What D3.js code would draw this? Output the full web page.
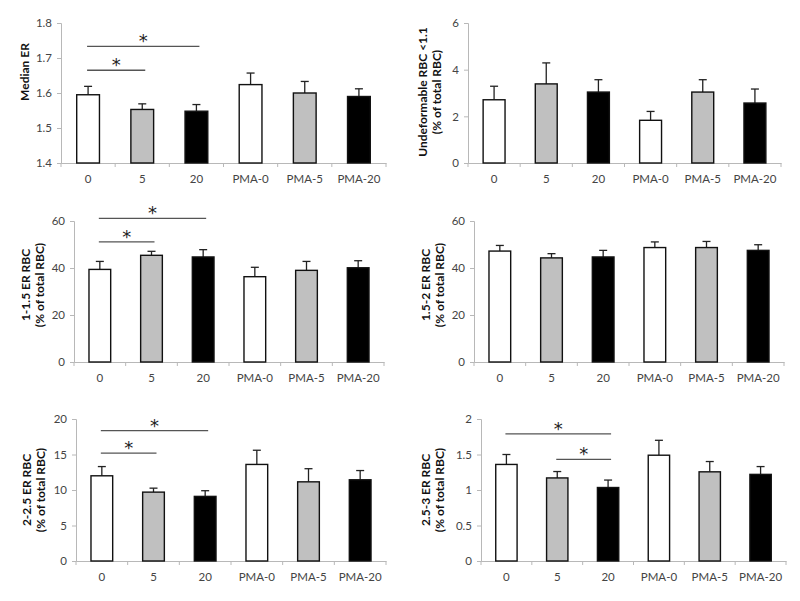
<!DOCTYPE html>
<html>
<head>
<meta charset="utf-8">
<script src="https://cdn.jsdelivr.net/npm/d3@7"></script>
<style>
  html, body { margin: 0; padding: 0; background: #fff; }
  svg text { font-family: Lato, "Open Sans", sans-serif; }
</style>
</head>
<body>
<svg id="chart" width="800" height="601"></svg>
<script>
// categories on every x axis
const categories = ["0", "5", "20", "PMA-0", "PMA-5", "PMA-20"];
const barFills = ["#ffffff", "#c0c0c0", "#000000", "#ffffff", "#c0c0c0", "#000000"];

// values (mean, upper error)
const medianER     = [1.595, 1.553, 1.548, 1.624, 1.600, 1.590];
const medianERErr  = [0.024, 0.016, 0.019, 0.033, 0.033, 0.022];
const undeform     = [2.71, 3.39, 3.04, 1.83, 3.04, 2.57];
const undeformErr  = [0.58, 0.90, 0.53, 0.38, 0.53, 0.60];
const er1to15      = [39.4, 45.4, 44.7, 36.3, 39.0, 40.1];
const er1to15Err   = [3.4, 1.7, 3.1, 4.0, 3.8, 3.0];
const er15to2      = [47.2, 44.3, 44.7, 48.7, 48.7, 47.5];
const er15to2Err   = [2.4, 1.8, 2.8, 2.4, 2.6, 2.4];
const er2to25      = [12.0, 9.7, 9.1, 13.6, 11.15, 11.44];
const er2to25Err   = [1.3, 0.56, 0.8, 2.0, 1.85, 1.3];
const er25to3      = [1.36, 1.17, 1.035, 1.49, 1.256, 1.22];
const er25to3Err   = [0.14, 0.09, 0.105, 0.21, 0.145, 0.11];

// significance brackets: [from index, to index, y value]
const sigMedian  = [[0, 1, 1.665], [0, 2, 1.733]];
const sig1to15   = [[0, 1, 51.1], [0, 2, 61.1]];
const sig2to25   = [[0, 1, 15.2], [0, 2, 18.35]];
const sig25to3   = [[1, 2, 1.43], [0, 2, 1.79]];

// y ticks
const ticksMedian = [1.4, 1.5, 1.6, 1.7, 1.8];
const ticksUndef  = [0, 2, 4, 6];
const ticks60     = [0, 20, 40, 60];
const ticks20     = [0, 5, 10, 15, 20];
const ticks2      = [0, 0.5, 1, 1.5, 2];

const panels = [
  { x0: 61,  x1: 386, y0: 163, y1: 23,  domain: [1.4, 1.8], ticks: ticksMedian, fmt: d3.format(".1f"),
    vals: medianER, errs: medianERErr, sig: sigMedian, label: ["Median ER"], labelX: 25, labelY: 72 },
  { x0: 468, x1: 781, y0: 163, y1: 23,  domain: [0, 6], ticks: ticksUndef, fmt: d3.format("d"),
    vals: undeform, errs: undeformErr, sig: [], label: ["Undeformable RBC <1.1", "(% of total RBC)"], labelX: 429, labelY: 92 },
  { x0: 74,  x1: 384, y0: 362, y1: 221, domain: [0, 60], ticks: ticks60, fmt: d3.format("d"),
    vals: er1to15, errs: er1to15Err, sig: sig1to15, label: ["1-1.5 ER RBC", "(% of total RBC)"], labelX: 32, labelY: 285 },
  { x0: 474, x1: 784, y0: 362, y1: 221, domain: [0, 60], ticks: ticks60, fmt: d3.format("d"),
    vals: er15to2, errs: er15to2Err, sig: [], label: ["1.5-2 ER RBC", "(% of total RBC)"], labelX: 432, labelY: 285 },
  { x0: 76,  x1: 386, y0: 561, y1: 419, domain: [0, 20], ticks: ticks20, fmt: d3.format("d"),
    vals: er2to25, errs: er2to25Err, sig: sig2to25, label: ["2-2.5 ER RBC", "(% of total RBC)"], labelX: 33, labelY: 490 },
  { x0: 481, x1: 786, y0: 561, y1: 419, domain: [0, 2], ticks: ticks2, fmt: d => String(d),
    vals: er25to3, errs: er25to3Err, sig: sig25to3, label: ["2.5-3 ER RBC", "(% of total RBC)"], labelX: 432, labelY: 490 }
];

const svg = d3.select("#chart");
const axisColor = "#b8b8b8";

panels.forEach(p => {
  const g = svg.append("g");
  const x = d3.scaleBand().domain(categories).range([p.x0, p.x1]).padding(0);
  const y = d3.scaleLinear().domain(p.domain).range([p.y0, p.y1]);
  const bw = x.bandwidth() * 0.42;

  // y axis
  const ya = g.append("g").attr("transform", `translate(${p.x0},0)`)
    .call(d3.axisLeft(y).tickValues(p.ticks).tickFormat(p.fmt).tickSize(4).tickPadding(5));
  ya.select(".domain").attr("stroke", axisColor);
  ya.selectAll(".tick line").attr("stroke", axisColor);
  ya.selectAll(".tick text").attr("fill", "#444").style("font-size", "11.5px");

  // x axis: ticks at band boundaries
  const xa = g.append("g").attr("transform", `translate(0,${p.y0})`)
    .call(d3.axisBottom(x).tickSize(0).tickPadding(12));
  xa.select(".domain").attr("stroke", axisColor);
  xa.selectAll(".tick text").attr("fill", "#444").style("font-size", "11.5px");
  g.append("g").selectAll("line")
    .data(d3.range(categories.length + 1))
    .join("line")
    .attr("x1", i => p.x0 + i * x.step()).attr("x2", i => p.x0 + i * x.step())
    .attr("y1", p.y0).attr("y2", p.y0 + 4)
    .attr("stroke", axisColor);

  // error bars (upper only)
  const eb = g.append("g").attr("stroke", "#222").attr("stroke-width", 1.3);
  categories.forEach((c, i) => {
    const cx = x(c) + x.bandwidth() / 2;
    eb.append("line").attr("x1", cx).attr("x2", cx)
      .attr("y1", y(p.vals[i])).attr("y2", y(p.vals[i] + p.errs[i]));
    eb.append("line").attr("x1", cx - 4).attr("x2", cx + 4)
      .attr("y1", y(p.vals[i] + p.errs[i])).attr("y2", y(p.vals[i] + p.errs[i]));
  });

  // bars
  g.append("g").selectAll("rect")
    .data(p.vals)
    .join("rect")
    .attr("x", (d, i) => x(categories[i]) + (x.bandwidth() - bw) / 2)
    .attr("y", d => y(d))
    .attr("width", bw)
    .attr("height", d => p.y0 - y(d))
    .attr("fill", (d, i) => barFills[i])
    .attr("stroke", "#111")
    .attr("stroke-width", 1.4);

  // significance lines
  p.sig.forEach(([a, b, v]) => {
    const xa1 = x(categories[a]) + x.bandwidth() / 2 - 1;
    const xb1 = x(categories[b]) + x.bandwidth() / 2 + 3;
    g.append("line").attr("x1", xa1).attr("x2", xb1)
      .attr("y1", y(v)).attr("y2", y(v))
      .attr("stroke", "#555").attr("stroke-width", 1.3);
    g.append("text").attr("x", (xa1 + xb1) / 2).attr("y", y(v) + 1)
      .attr("text-anchor", "middle").attr("fill", "#222")
      .style("font-family", "'DejaVu Sans', sans-serif")
      .style("font-size", "18px").text("*");
  });

  // y label
  const lab = g.append("text")
    .attr("transform", `translate(${p.labelX},${p.labelY}) rotate(-90)`)
    .attr("text-anchor", "middle")
    .attr("fill", "#111")
    .style("font-size", "12px").style("font-weight", "bold");
  p.label.forEach((t, k) => {
    lab.append("tspan").attr("x", 0).attr("dy", k === 0 ? (p.label.length > 1 ? "-0.15em" : "0.35em") : "1.15em").text(t);
  });
});
</script>
</body>
</html>
